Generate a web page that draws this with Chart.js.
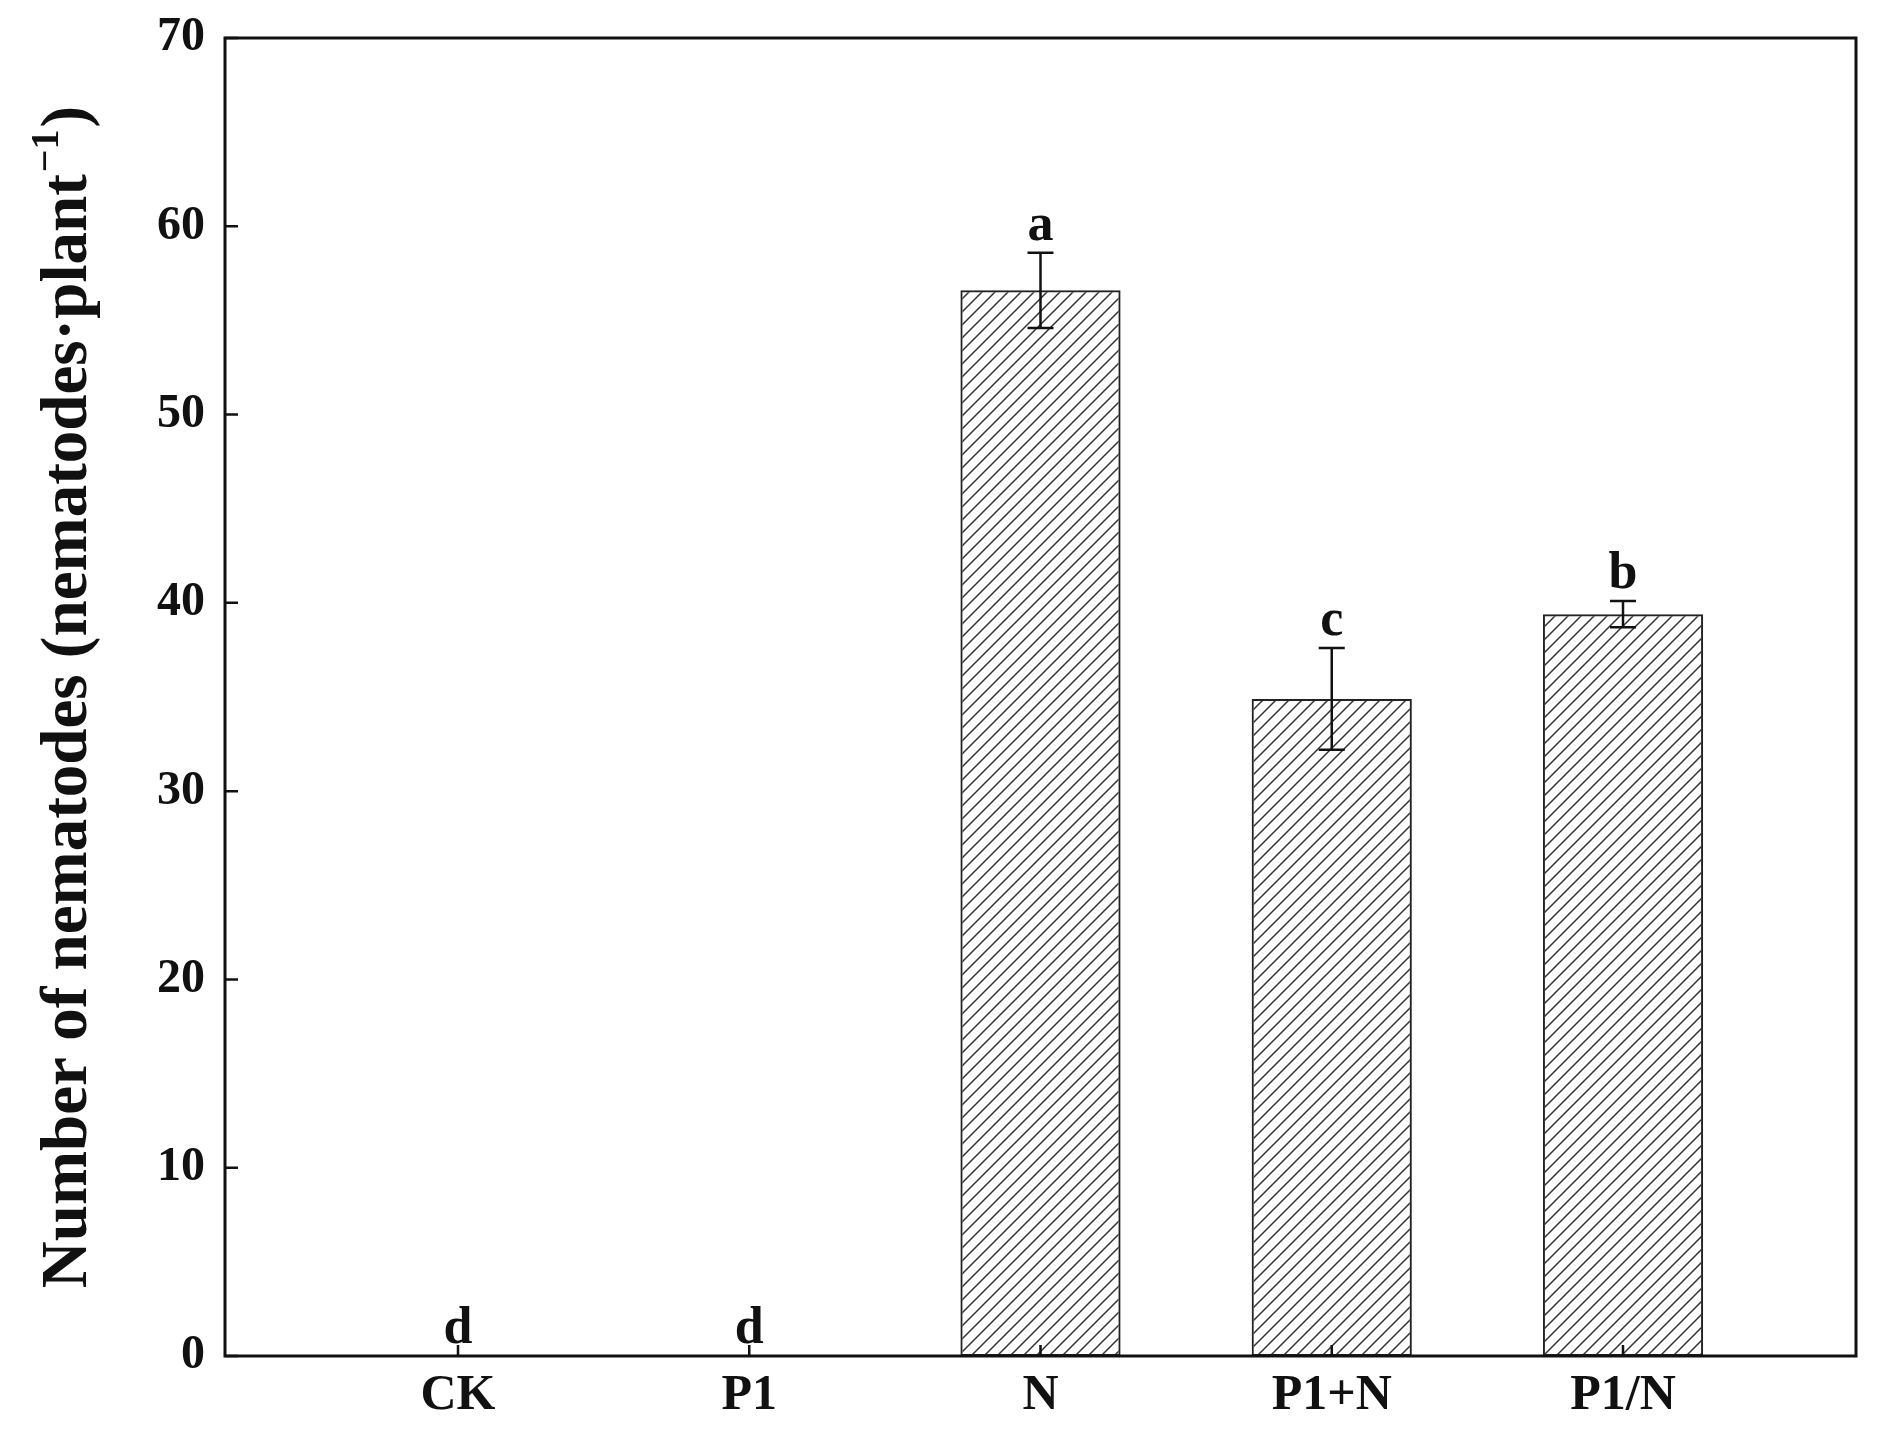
<!DOCTYPE html>
<html>
<head>
<meta charset="utf-8">
<script src="https://cdn.jsdelivr.net/npm/chart.js@4/dist/chart.umd.min.js"></script>
<style>
  html, body { margin: 0; padding: 0; background: #fff; }
  #wrap { width: 1880px; height: 1447px; }
</style>
</head>
<body>
<div id="wrap"><canvas id="chart" width="1880" height="1447"></canvas></div>
<script>
const categories = ["CK", "P1", "N", "P1+N", "P1/N"];
const means = [0, 0, 56.6, 34.9, 39.4];
const errors = [0, 0, 2.0, 2.7, 0.7];
const letters = ["d", "d", "a", "c", "b"];
const yTicks = [0, 10, 20, 30, 40, 50, 60, 70];

const FONT = "'Times New Roman', 'Liberation Serif', Tinos, serif";

// hatch pattern "///"
const tile = document.createElement("canvas");
tile.width = 13;
tile.height = 13;
const tctx = tile.getContext("2d");
tctx.strokeStyle = "#333";
tctx.lineWidth = 1.5;
tctx.beginPath();
tctx.moveTo(-2, 15); tctx.lineTo(15, -2);
tctx.moveTo(-2, 2); tctx.lineTo(2, -2);
tctx.moveTo(11, 15); tctx.lineTo(15, 11);
tctx.stroke();
const hatch = tctx.createPattern(tile, "repeat");

const decor = {
  id: "decor",
  afterDatasetsDraw(chart) {
    const { ctx, chartArea: a, scales: { x, y } } = chart;
    ctx.save();
    ctx.strokeStyle = "#111";
    ctx.fillStyle = "#111";

    // error bars + letters
    ctx.lineWidth = 2.5;
    ctx.font = "bold 52px " + FONT;
    ctx.textAlign = "center";
    ctx.textBaseline = "alphabetic";
    means.forEach((m, i) => {
      const px = x.getPixelForValue(i);
      const top = y.getPixelForValue(m + errors[i]);
      const bot = y.getPixelForValue(m - errors[i]);
      if (errors[i] > 0) {
        ctx.beginPath();
        ctx.moveTo(px, top); ctx.lineTo(px, bot);
        ctx.moveTo(px - 13, top); ctx.lineTo(px + 13, top);
        ctx.moveTo(px - 13, bot); ctx.lineTo(px + 13, bot);
        ctx.stroke();
      }
      ctx.fillText(letters[i], px, top - 13);
    });

    // inward ticks
    ctx.lineWidth = 2.5;
    ctx.beginPath();
    y.ticks.forEach((t, i) => {
      const py = y.getPixelForTick(i);
      ctx.moveTo(a.left, py); ctx.lineTo(a.left + 13, py);
    });
    x.ticks.forEach((t, i) => {
      const px = x.getPixelForTick(i);
      ctx.moveTo(px, a.bottom); ctx.lineTo(px, a.bottom - 11);
    });
    ctx.stroke();

    // frame
    ctx.lineWidth = 3;
    ctx.strokeRect(a.left, a.top, a.right - a.left, a.bottom - a.top);

    // y axis title with superscript
    const main = "Number of nematodes (nematodes\u00b7plant";
    const sup = "\u22121";
    const end = ")";
    const bigFont = "bold 65px " + FONT;
    const supFont = "bold 40px " + FONT;
    ctx.font = bigFont;
    const w1 = ctx.measureText(main).width;
    const w3 = ctx.measureText(end).width;
    ctx.font = supFont;
    const w2 = ctx.measureText(sup).width;
    const total = w1 + w2 + w3 + 4;
    const cy = (a.top + a.bottom) / 2;
    ctx.translate(86, cy);
    ctx.rotate(-Math.PI / 2);
    ctx.textAlign = "left";
    let sx = -total / 2;
    ctx.font = bigFont;
    ctx.fillText(main, sx, 0);
    sx += w1 + 2;
    ctx.font = supFont;
    ctx.fillText(sup, sx, -28);
    sx += w2 + 2;
    ctx.font = bigFont;
    ctx.fillText(end, sx, 0);
    ctx.restore();
  }
};

new Chart(document.getElementById("chart"), {
  type: "bar",
  data: {
    datasets: [{
      data: means.map((v, i) => ({ x: i, y: v })),
      backgroundColor: hatch,
      borderColor: "#222",
      borderWidth: 2,
      borderSkipped: false,
      categoryPercentage: 0.55,
      barPercentage: 1.0
    }]
  },
  options: {
    responsive: false,
    animation: false,
    layout: { padding: { top: 38, right: 24, left: 0, bottom: 0 } },
    plugins: { legend: { display: false }, tooltip: { enabled: false } },
    scales: {
      x: {
        type: "linear",
        offset: false,
        min: -0.8,
        max: 4.8,
        afterBuildTicks: (scale) => { scale.ticks = categories.map((c, i) => ({ value: i })); },
        afterFit: (scale) => { scale.height = 91; scale.paddingLeft = 0; scale.paddingRight = 0; },
        grid: { display: false, drawTicks: false, offset: false },
        border: { display: false },
        ticks: {
          callback: (v) => categories[v],
          color: "#111",
          padding: 10,
          maxRotation: 0,
          autoSkip: false,
          font: { family: FONT, size: 50, weight: "bold" }
        }
      },
      y: {
        min: 0,
        max: 70,
        afterBuildTicks: (scale) => { scale.ticks = yTicks.map(v => ({ value: v })); },
        afterFit: (scale) => { scale.width = 225; scale.paddingTop = 0; scale.paddingBottom = 0; },
        grid: { display: false, drawTicks: false },
        border: { display: false },
        ticks: {
          color: "#111",
          padding: 20,
          font: { family: FONT, size: 48, weight: "bold" }
        }
      }
    }
  },
  plugins: [decor]
});
</script>
</body>
</html>
